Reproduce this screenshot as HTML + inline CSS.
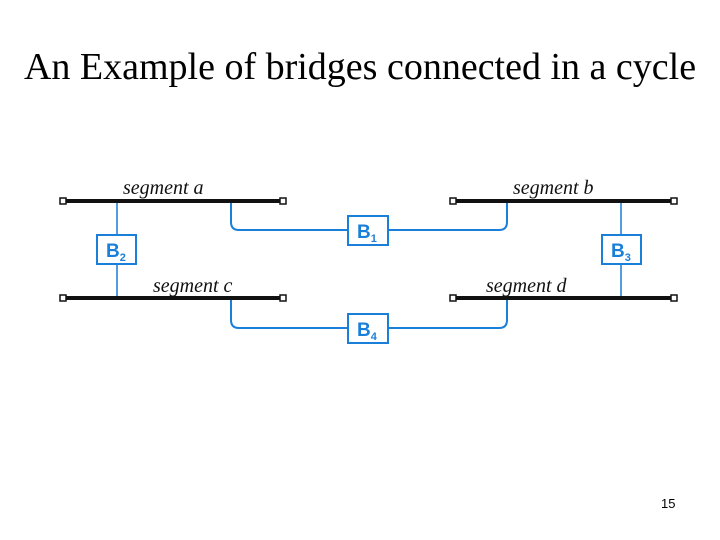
<!DOCTYPE html>
<html><head><style>
body{margin:0;width:720px;height:540px;background:#fff;overflow:hidden;position:relative}
.t{position:absolute;left:0;width:720px;top:45px;text-align:center;font-family:"Liberation Serif",serif;font-size:38px;color:#000;white-space:nowrap}
.p{position:absolute;left:661px;top:496px;font-family:"Liberation Sans",sans-serif;font-size:13px}
</style></head><body>
<div class="t">An Example of bridges connected in a cycle</div>
<svg width="720" height="540" style="position:absolute;left:0;top:0">
<g fill="none" stroke="#1a7fd9" stroke-width="2">
<path d="M231 201 V222 Q231 230 239 230 H347"/>
<path d="M388 230 H499 Q507 230 507 222 V201"/>
<path d="M231 298 V320 Q231 328 239 328 H347"/>
<path d="M388 328 H499 Q507 328 507 320 V298"/>
<path d="M117 201 V298 M621 201 V298" stroke-width="1.5"/>
</g>
<g stroke="#111" stroke-width="4">
<line x1="64" y1="201" x2="283" y2="201"/><line x1="64" y1="298" x2="283" y2="298"/>
<line x1="454" y1="201" x2="673" y2="201"/><line x1="454" y1="298" x2="673" y2="298"/>
</g>
<g fill="#fff" stroke="#111" stroke-width="1.5">
<rect x="60" y="198" width="6" height="6"/><rect x="280" y="198" width="6" height="6"/>
<rect x="60" y="295" width="6" height="6"/><rect x="280" y="295" width="6" height="6"/>
<rect x="450" y="198" width="6" height="6"/><rect x="671" y="198" width="6" height="6"/>
<rect x="450" y="295" width="6" height="6"/><rect x="671" y="295" width="6" height="6"/>
</g>
<g fill="#fff" stroke="#1a7fd9" stroke-width="2">
<rect x="348" y="216" width="40" height="29"/><rect x="97" y="235" width="39" height="29"/>
<rect x="602" y="235" width="39" height="29"/><rect x="348" y="314" width="40" height="29"/>
</g>
<g fill="#1a7fd9" font-family="Liberation Sans,sans-serif" font-weight="bold" font-size="19">
<text x="357" y="238">B<tspan font-size="11" dy="4">1</tspan></text>
<text x="106" y="257">B<tspan font-size="11" dy="4">2</tspan></text>
<text x="611" y="257">B<tspan font-size="11" dy="4">3</tspan></text>
<text x="357" y="336">B<tspan font-size="11" dy="4">4</tspan></text>
</g>
<g font-family="Liberation Serif,serif" font-style="italic" font-size="20" fill="#111">
<text x="123" y="194">segment a</text>
<text x="513" y="194">segment b</text>
<text x="153" y="292">segment c</text>
<text x="486" y="292">segment d</text>
</g>
</svg>
<div class="p">15</div>
</body></html>
